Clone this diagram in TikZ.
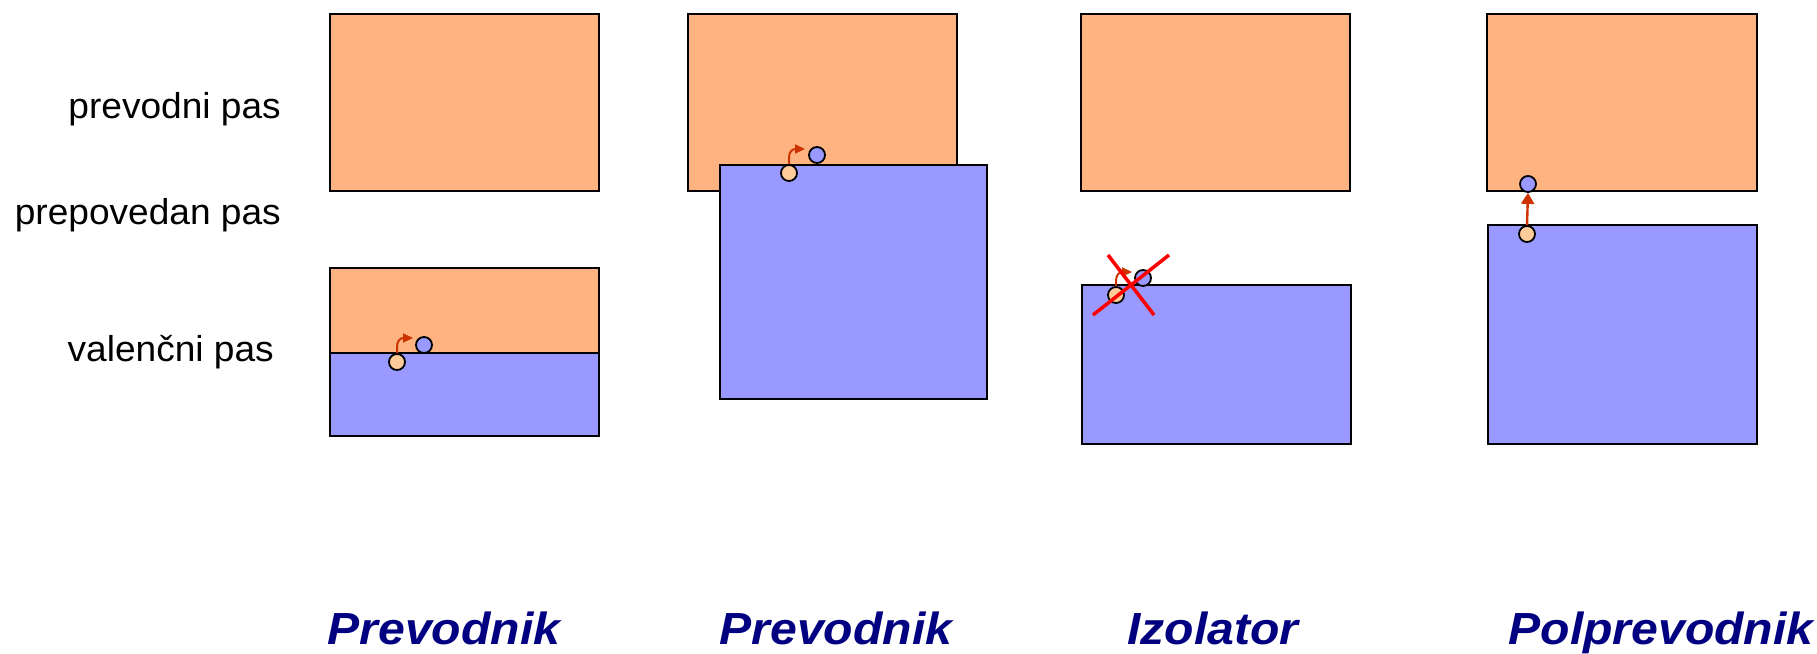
\documentclass[tikz,border=0pt]{standalone}
\usepackage{fontspec}
\setmainfont{Liberation Sans}
\newfontfamily\kindfont[FakeStretch=1.07]{Liberation Sans}
\newfontfamily\bandfont[FakeStretch=1.03]{Liberation Sans}
\usetikzlibrary{arrows.meta}
\definecolor{cband}{HTML}{FFB380}
\definecolor{vband}{HTML}{9999FF}
\definecolor{elec}{HTML}{9999FF}
\definecolor{holec}{HTML}{FFCC99}
\definecolor{jumpc}{HTML}{CC3300}
\definecolor{titlec}{HTML}{000080}
\begin{document}
\begin{tikzpicture}[x=1pt,y=-1pt,
  condband/.style={draw=black,line width=2pt,fill=cband},
  valband/.style={draw=black,line width=2pt,fill=vband},
  electron/.style={circle,draw=black,line width=1.8pt,fill=elec,minimum size=16pt,inner sep=0pt},
  hole/.style={circle,draw=black,line width=1.8pt,fill=holec,minimum size=16pt,inner sep=0pt},
  jump/.style={draw=jumpc,line width=2pt,-{Triangle[length=10pt,width=9pt]}},
  lift/.style={draw=jumpc,line width=2.4pt,-{Triangle[length=11pt,width=13pt]}},
  cross/.style={draw=red,line width=3.5pt},
  bandlbl/.style={font=\bandfont\fontsize{36}{44}\selectfont,anchor=base east,inner sep=0pt},
  kind/.style={font=\kindfont\fontsize{45}{54}\selectfont\bfseries\itshape,text=titlec,anchor=base,inner sep=0pt}]
\useasboundingbox (0,0) rectangle (1817,653);

% band labels
\node[bandlbl] (lc) at (281,118) {prevodni pas};
\node[bandlbl] (lg) at (281,224) {prepovedan pas};
\node[bandlbl] (lv) at (274,361) {valenčni pas};

% first conductor: overlapping band filled partly
\draw[condband] (330,14) rectangle (599,191);
\draw[condband] (330,268) rectangle (599,353);
\draw[valband] (330,353) rectangle (599,436);
\node[hole] (h1) at (397,362) {};
\node[electron] (e1) at (424,345) {};
\coordinate (t1) at (413,338);
\draw[jump] (h1.north) -- (397,347) .. controls (397,341) and (400,338) .. (t1);

% second conductor: bands overlap
\draw[condband] (688,14) rectangle (957,191);
\draw[valband] (720,165) rectangle (987,399);
\node[hole] (h2) at (789,173) {};
\node[electron] (e2) at (817,155) {};
\coordinate (t2) at (805,149);
\draw[jump] (h2.north) -- (789,158) .. controls (789,152) and (792,149) .. (t2);

% insulator: wide gap, transition forbidden
\draw[condband] (1081,14) rectangle (1350,191);
\draw[valband] (1082,285) rectangle (1351,444);
\node[hole] (h3) at (1116,295) {};
\node[electron] (e3) at (1143,278) {};
\coordinate (t3) at (1132,272);
\draw[jump] (h3.north) -- (1116,281) .. controls (1116,275) and (1119,272) .. (t3);
\coordinate (xa) at (1108,255);
\coordinate (xb) at (1154,315);
\coordinate (xc) at (1169,255);
\coordinate (xd) at (1093,315);
\draw[cross] (xa) -- (xb);
\draw[cross] (xc) -- (xd);

% semiconductor: narrow gap
\draw[condband] (1487,14) rectangle (1757,191);
\draw[valband] (1488,225) rectangle (1757,444);
\node[hole] (h4) at (1527,234) {};
\node[electron] (e4) at (1528,184) {};
\draw[lift] (h4.north) -- (e4.south);

% material names
\node[kind] (k1) at (444,644) {Prevodnik};
\node[kind] (k2) at (836,644) {Prevodnik};
\node[kind] (k3) at (1213,644) {Izolator};
\node[kind] (k4) at (1661,644) {Polprevodnik};
\end{tikzpicture}
\end{document}
